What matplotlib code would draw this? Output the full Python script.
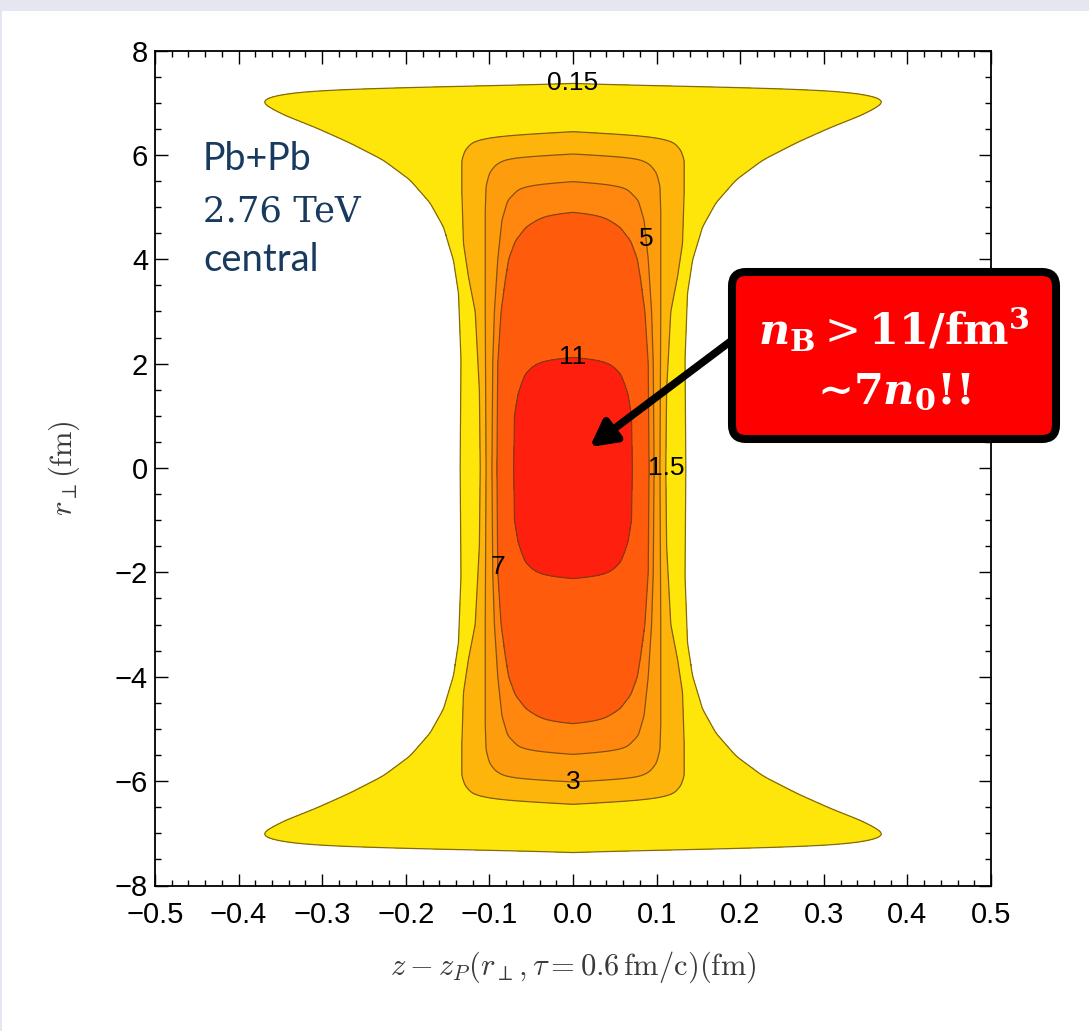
import numpy as np
import matplotlib
matplotlib.use("Agg")
import matplotlib.pyplot as plt
from matplotlib import font_manager
from matplotlib.patches import FancyBboxPatch, Rectangle

W_PX, H_PX = 1089, 1031

# Contour levels of the baryon density n_B (1/fm^3), outermost first
level_labels = ["0.15", "1.5", "3", "5", "7", "11"]
fill_colors = ["#ffe60a", "#fdb50c", "#fd9c0d", "#ff860f", "#ff5b0c", "#ff1f0e"]

# Each contour as a half-width profile: |r_perp| knots (fm) -> |z - z_P| (fm)
r_015 = [0.0, 2.07, 3.35, 3.98, 4.62, 5.08, 5.52, 5.90, 6.23, 6.51, 6.76, 6.90, 6.99,
         7.06, 7.12, 7.18, 7.24, 7.28, 7.31, 7.33, 7.345]
w_015 = [0.135, 0.134, 0.137, 0.143, 0.155, 0.171, 0.195, 0.227, 0.267, 0.306, 0.345, 0.362, 0.370,
         0.369, 0.360, 0.340, 0.306, 0.240, 0.170, 0.080, 0.0]

r_15 = [0.0, 1.5, 3.0, 3.66, 4.3, 5.3, 5.9, 6.09, 6.25, 6.34, 6.40, 6.44]
w_15 = [0.111, 0.112, 0.117, 0.125, 0.131, 0.133, 0.133, 0.129, 0.120, 0.099, 0.060, 0.0]

r_3 = [0.0, 3.0, 4.9, 5.40, 5.65, 5.82, 5.94, 5.99, 6.01]
w_3 = [0.104, 0.105, 0.105, 0.104, 0.100, 0.092, 0.077, 0.045, 0.0]

r_5 = [0.0, 2.0, 3.0, 4.0, 4.75, 5.13, 5.36, 5.45, 5.49]
w_5 = [0.097, 0.096, 0.094, 0.090, 0.085, 0.078, 0.064, 0.040, 0.0]

r_7 = [0.0, 2.0, 3.0, 3.6, 4.0, 4.35, 4.62, 4.80, 4.88, 4.91]
w_7 = [0.091, 0.090, 0.086, 0.081, 0.077, 0.069, 0.056, 0.038, 0.018, 0.0]

r_11 = [0.0, 1.0, 1.4, 1.6, 1.8, 1.95, 2.05, 2.10, 2.13]
w_11 = [0.071, 0.070, 0.066, 0.062, 0.057, 0.048, 0.036, 0.018, 0.0]

profiles = [(r_015, w_015), (r_15, w_15), (r_3, w_3), (r_5, w_5), (r_7, w_7), (r_11, w_11)]

# Where each level's label sits on its contour (z - z_P, r_perp)
label_spots = [(0.0, 7.33), (0.111, 0.0), (0.0, -6.0), (0.09, 4.4), (-0.091, -1.9), (0.0, 2.12)]

x_ticks = np.round(np.arange(-0.5, 0.501, 0.1), 2)
y_ticks = np.arange(-8, 8.1, 2)

names = {f.name for f in font_manager.fontManager.ttflist}
tick_font = "Liberation Sans" if "Liberation Sans" in names else "DejaVu Sans"


def gauss_smooth(v, n):
    """Light Gaussian smoothing of a sampled profile (sigma = n samples)."""
    k = np.exp(-0.5 * (np.arange(-3 * n, 3 * n + 1) / n) ** 2)
    k /= k.sum()
    return np.convolve(np.pad(v, 3 * n, mode="edge"), k, mode="valid")


fig = plt.figure(figsize=(W_PX / 100, H_PX / 100), dpi=100)
fig.patch.set_facecolor("white")
fig.patches.append(Rectangle((0, 1 - 11 / H_PX), 1, 11 / H_PX, transform=fig.transFigure,
                             facecolor="#e6e6f0", edgecolor="none", zorder=0))
fig.patches.append(Rectangle((0, 0), 2 / W_PX, 1, transform=fig.transFigure,
                             facecolor="#e6e6f0", edgecolor="none", zorder=0))

left, right, top, bottom = 155, 991, 50.5, 885.5
ax = fig.add_axes([left / W_PX, 1 - bottom / H_PX, (right - left) / W_PX, (bottom - top) / H_PX])

xg = np.linspace(-0.5, 0.5, 2001)
yg = np.linspace(-8, 8, 1601)
X, Y = np.meshgrid(xg, yg)
ay = np.abs(yg)

for k, (rk, wk) in enumerate(profiles):
    rk = np.asarray(rk)
    wk = np.asarray(wk)
    w_of_y = np.where(ay <= rk[-1], np.interp(ay, rk, wk), -(ay - rk[-1]))
    w_of_y = gauss_smooth(w_of_y, 4)
    S = np.abs(X) - w_of_y[:, None]
    ax.contourf(X, Y, S, levels=[-1.0, 0.0], colors=[fill_colors[k]], zorder=1 + k)
    cs = ax.contour(X, Y, S, levels=[0.0], colors=["#5a4010"], linewidths=0.9,
                    alpha=0.75, zorder=1.5 + k)
    lbls = ax.clabel(cs, levels=[0.0], fmt={0.0: level_labels[k]}, inline=False,
                     manual=[label_spots[k]], fontsize=19)
    for t in lbls:
        t.set_fontfamily(tick_font)
        t.set_color("black")
        t.set_rotation(0)
        t.set_zorder(20)

ax.set_xlim(-0.5, 0.5)
ax.set_ylim(-8, 8)
ax.set_xticks(x_ticks)
ax.set_xticklabels([f"{v + 0.0:.1f}".replace("-", "\u2212") for v in x_ticks])
ax.set_yticks(y_ticks)
ax.set_yticklabels([f"{int(v)}".replace("-", "\u2212") for v in y_ticks])
ax.set_xticks(np.round(np.arange(-0.5, 0.501, 0.02), 3), minor=True)
ax.set_yticks(np.arange(-8, 8.01, 0.5), minor=True)
ax.tick_params(which="both", direction="in", top=True, right=True, color="black", width=1.0)
ax.tick_params(which="major", length=9, pad=5, labelsize=21)
ax.tick_params(axis="x", which="major", pad=11)
ax.tick_params(which="minor", length=4.5)
for t in ax.get_xticklabels() + ax.get_yticklabels():
    t.set_fontfamily(tick_font)
for sp in ax.spines.values():
    sp.set_linewidth(1.3)
    sp.set_zorder(30)

ax.set_xlabel(r"$z - z_P(r_\perp, \tau = 0.6\,\mathrm{fm/c})(\mathrm{fm})$", fontsize=22,
              color="#3a3a3a", math_fontfamily="cm")
ax.xaxis.set_label_coords(0.5, (bottom - 967) / (bottom - top))
ax.xaxis.label.set_va("center")
ax.set_ylabel(r"$r_\perp(\mathrm{fm})$", fontsize=22, color="#3a3a3a", math_fontfamily="cm")
ax.yaxis.set_label_coords((64 - left) / (right - left), 0.5)
ax.yaxis.label.set_va("center")


def fxy(px, py):
    return px / W_PX, 1 - py / H_PX


navy = "#173a5e"
fig.text(*fxy(203, 170), "Pb+Pb", fontsize=27, family="Lato", color=navy, va="baseline")
fig.text(*fxy(203, 222), "2.76 TeV", fontsize=25.5, family="DejaVu Serif", color=navy, va="baseline")
fig.text(*fxy(203, 271), "central", fontsize=27.5, family="Lato", color=navy, va="baseline")

# Arrow pointing into the densest core
ax.annotate("", xy=(0.02, 0.4), xycoords="data",
            xytext=fxy(735, 338), textcoords="figure fraction",
            arrowprops=dict(arrowstyle="-|>,head_length=1.5,head_width=0.8",
                            color="black", lw=5.5, shrinkA=0, shrinkB=0),
            zorder=40, annotation_clip=False)

box = FancyBboxPatch((7.32, (H_PX - 439) / 100), 3.24, 1.67,
                     boxstyle="round,pad=0,rounding_size=0.14",
                     transform=fig.dpi_scale_trans, facecolor="#ff0000",
                     edgecolor="black", linewidth=5.8, zorder=50)
fig.patches.append(box)
fig.text(*fxy(894, 345), r"$\mathbfit{n}_\mathbf{B} > \mathbf{11/fm}^\mathbf{3}$",
         fontsize=31, color="white", ha="center", va="baseline",
         math_fontfamily="dejavuserif", zorder=60)
fig.text(*fxy(894, 403), "\u223c7" + r"$\mathbfit{n}_\mathbf{0}$" + "!!",
         fontsize=31, color="white", ha="center", va="baseline", family="DejaVu Serif",
         weight="bold", math_fontfamily="dejavuserif", zorder=60)

fig.savefig("out.png", dpi=100, facecolor="white")
